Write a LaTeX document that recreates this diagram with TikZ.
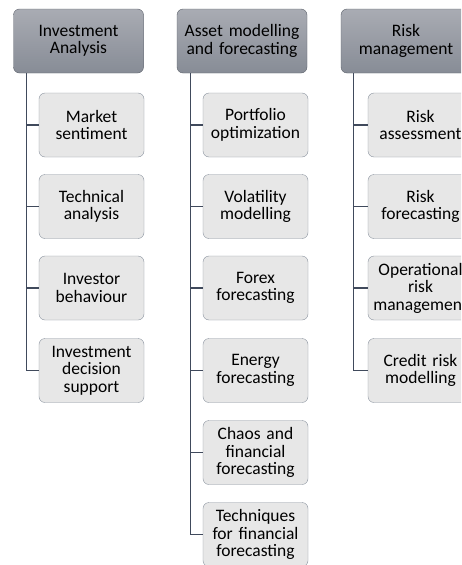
\documentclass[tikz,border=0pt]{standalone}
\usepackage{fontspec}
\setmainfont{Carlito}
\definecolor{hdrtop}{HTML}{A9ACB3}
\definecolor{hdrbot}{HTML}{878C96}
\definecolor{hdrline}{HTML}{5C616B}
\definecolor{itemfill}{HTML}{E7E7E7}
\definecolor{itemline}{HTML}{8A929E}
\definecolor{trunk}{HTML}{404A5C}
\tikzset{
  header/.style={draw=hdrline, top color=hdrtop, bottom color=hdrbot,
    rounded corners=6pt, minimum width=130pt, minimum height=64pt,
    align=center, text width=126pt, inner sep=1pt,
    font=\fontsize{17.5}{17.5}\selectfont},
  item/.style={draw=itemline, fill=itemfill, rounded corners=6pt,
    minimum width=105pt, minimum height=64pt, inner sep=1pt,
    align=center, text width=103pt, font=\fontsize{17.5}{17.5}\selectfont},
  branch/.style={draw=trunk, line width=1.1pt}
}
\begin{document}
\begin{tikzpicture}[x=1pt, y=1pt]
  \useasboundingbox (0,0) rectangle (461,-565);
  \clip (0,0) rectangle (461,-565);
  \fill[white] (0,0) rectangle (461,-565);
  % column headers
  \node[header] (inv) at (78.5,-41) {Investment\\Analysis};
  \node[header] (asset) at (242,-41) {Asset modelling\\and forecasting};
  \node[header] (risk) at (406,-41) {Risk\\management};
  % investment analysis
  \node[item] (market) at (91.5,-125) {Market\\sentiment};
  \node[item] (tech) at (91.5,-206.5) {Technical\\analysis};
  \node[item] (behav) at (91.5,-288) {Investor\\behaviour};
  \node[item] (decis) at (91.5,-370.5) {Investment\\decision\\support};
  % asset modelling and forecasting
  \node[item] (portf) at (255.5,-125) {Portfolio\\optimization};
  \node[item] (volat) at (255.5,-206.5) {Volatility\\modelling};
  \node[item] (forex) at (255.5,-288) {Forex\\forecasting};
  \node[item] (energy) at (255.5,-370.5) {Energy\\forecasting};
  \node[item] (chaos) at (255.5,-452.5) {Chaos and\\financial\\forecasting};
  \node[item] (techn) at (255.5,-534.5) {Techniques\\for financial\\forecasting};
  % risk management
  \node[item] (rassess) at (420.5,-125) {Risk\\assessment};
  \node[item] (rfore) at (420.5,-206.5) {Risk\\forecasting};
  \node[item] (oper) at (420.5,-288) {Operational\\risk\\management};
  \node[item] (credit) at (420.5,-370.5) {Credit risk\\modelling};
  % tree branches
  \foreach \c in {market,tech,behav,decis}
    \draw[branch] ([xshift=13pt]inv.south west) |- (\c.west);
  \foreach \c in {portf,volat,forex,energy,chaos,techn}
    \draw[branch] ([xshift=14pt]asset.south west) |- (\c.west);
  \foreach \c in {rassess,rfore,oper,credit}
    \draw[branch] ([xshift=13pt]risk.south west) |- (\c.west);
\end{tikzpicture}
\end{document}
